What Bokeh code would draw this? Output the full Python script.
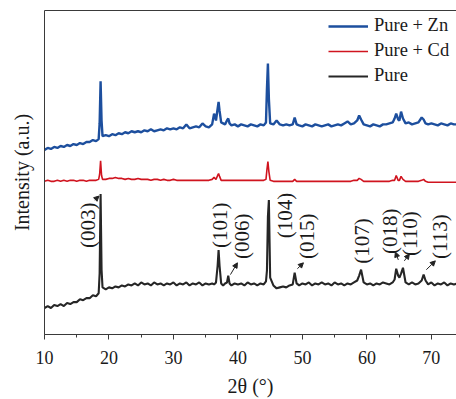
from bokeh.plotting import figure
from bokeh.embed import file_html
from bokeh.resources import INLINE
from bokeh.models import (Range1d, Legend, LegendItem, Label, Arrow, NormalHead,
                          LinearAxis, FixedTicker, SingleIntervalTicker)

# ---------------- data ----------------
two_theta = [
    10.0, 10.5, 11.0, 11.5, 12.0, 12.5, 13.0, 13.5, 14.0, 14.5,
    15.0, 15.5, 16.0, 16.5, 17.0, 17.5, 18.0, 18.4, 18.55, 18.7,
    18.85, 19.0, 19.5, 20.0, 20.5, 21.0, 21.5, 22.0, 22.5, 23.0,
    23.5, 24.0, 24.5, 25.0, 25.5, 26.0, 26.5, 27.0, 27.5, 28.0,
    28.5, 29.0, 29.5, 30.0, 30.5, 31.0, 31.5, 32.0, 32.5, 33.0,
    33.5, 34.0, 34.5, 35.0, 35.5, 36.0, 36.3, 36.6, 36.85, 37.0,
    37.15, 37.4, 37.7, 38.0, 38.3, 38.5, 38.7, 39.0, 39.5, 40.0,
    40.5, 41.0, 41.5, 42.0, 42.5, 43.0, 43.5, 44.0, 44.35, 44.5,
    44.65, 44.8, 45.0, 45.5, 46.0, 46.5, 47.0, 47.5, 48.0, 48.5,
    48.8, 49.1, 49.5, 50.0, 50.5, 51.0, 51.5, 52.0, 52.5, 53.0,
    53.5, 54.0, 54.5, 55.0, 55.5, 56.0, 56.5, 57.0, 57.5, 58.0,
    58.5, 58.8, 59.1, 59.5, 60.0, 60.5, 61.0, 61.5, 62.0, 62.5,
    63.0, 63.5, 64.0, 64.3, 64.55, 64.85, 65.05, 65.3, 65.6, 66.0,
    66.5, 67.0, 67.5, 68.0, 68.5, 68.8, 69.1, 69.5, 70.0, 70.5,
    71.0, 71.5, 72.0, 72.5, 73.0, 73.5, 74.0,
]

pure = [
    27, 29, 27, 30, 29, 31, 29, 32, 31, 33,
    33, 36, 35, 37, 37, 40, 39, 42, 62, 143,
    66, 48, 46, 48, 47, 49, 48, 50, 49, 51,
    50, 52, 50, 53, 51, 52, 50, 53, 51, 52,
    50, 52, 51, 53, 50, 52, 51, 53, 50, 52,
    51, 53, 50, 52, 51, 52, 51, 53, 70, 86,
    70, 52, 50, 52, 53, 60, 52, 50, 52, 51,
    52, 50, 53, 51, 52, 50, 52, 51, 54, 65,
    120, 137, 58, 50, 47, 48, 49, 48, 50, 51,
    63, 52, 50, 52, 51, 53, 50, 52, 51, 53,
    51, 52, 50, 53, 51, 52, 50, 52, 51, 53,
    55, 60, 66, 53, 51, 52, 50, 52, 51, 53,
    52, 51, 53, 56, 67, 60, 58, 62, 68, 53,
    51, 53, 51, 52, 55, 61, 55, 51, 53, 50,
    52, 51, 53, 50, 52, 51, 52,
]

pure_cd = [
    156, 157, 156, 156, 157, 156, 157, 156, 157, 157,
    156, 157, 157, 156, 157, 157, 157, 158, 163, 177,
    162, 158, 158, 159, 159, 160, 159, 159, 158, 159,
    158, 158, 159, 158, 158, 158, 157, 158, 158, 157,
    158, 157, 157, 158, 157, 157, 157, 157, 157, 157,
    157, 157, 157, 157, 157, 158, 160, 158, 162, 164,
    161, 157, 157, 157, 157, 157, 157, 157, 157, 157,
    157, 157, 157, 157, 157, 157, 157, 157, 158, 168,
    176, 166, 157, 156, 156, 156, 156, 156, 156, 156,
    158, 156, 156, 156, 156, 156, 156, 156, 156, 156,
    156, 156, 156, 156, 156, 156, 156, 156, 156, 157,
    157, 159, 158, 156, 156, 156, 156, 156, 156, 156,
    156, 156, 157, 157, 162, 157, 157, 161, 158, 156,
    156, 156, 156, 156, 157, 158, 156, 155, 155, 155,
    155, 155, 155, 155, 155, 155, 155,
]

pure_zn = [
    188, 190, 189, 191, 190, 192, 191, 193, 192, 194,
    193, 195, 194, 196, 196, 198, 197, 199, 215, 258,
    218, 202, 203, 202, 204, 203, 205, 204, 206, 205,
    207, 206, 207, 206, 208, 207, 209, 207, 208, 209,
    208, 210, 209, 210, 209, 211, 210, 214, 210, 211,
    212, 211, 215, 212, 211, 214, 225, 218, 230, 237,
    228, 216, 215, 214, 218, 220, 215, 213, 214, 212,
    214, 213, 212, 214, 213, 212, 214, 213, 216, 250,
    276, 240, 215, 214, 218, 214, 213, 214, 213, 214,
    221, 214, 213, 212, 214, 213, 212, 214, 213, 212,
    213, 214, 212, 213, 214, 213, 215, 217, 214, 215,
    218, 223, 219, 214, 213, 212, 214, 213, 212, 214,
    214, 215, 216, 220, 225, 219, 218, 227, 220, 215,
    216, 214, 215, 216, 221, 219, 215, 214, 215, 214,
    213, 215, 214, 213, 215, 214, 214,
]

series_names = ["Pure + Zn", "Pure + Cd", "Pure"]
peak_labels = ["(003)", "(101)", "(006)", "(104)", "(015)", "(107)", "(018)", "(110)", "(113)"]
x_ticks_interval = 10

# ---------------- layout / style ----------------
label_anchor_x = [16.82, 37.29, 40.70, 47.36, 50.78, 59.30, 63.64, 66.74, 71.40]
label_anchor_y = [88, 88, 77, 98, 77, 72, 82, 80, 77]
arrows = [  # (x_start, y_start, x_end, y_end) in data units
    (17.80, 137, 18.45, 141),
    (38.84, 61, 39.92, 73),
    (49.22, 67, 50.16, 73),
    (64.88, 76, 64.42, 84),
    (65.81, 75, 66.59, 82),
    (69.22, 66, 70.62, 75),
]

SERIF = "Liberation Serif"
AXIS_COLOR = "#3a3a3a"
TEXT_COLOR = "#1a1a1a"

p = figure(width=456, height=399, x_range=Range1d(10, 73.9), y_range=Range1d(0, 330),
           output_backend="svg", toolbar_location=None,
           min_border_left=44, min_border_right=0, min_border_top=10, min_border_bottom=59)
p.outline_line_color = None
p.xgrid.visible = False
p.ygrid.visible = False
p.background_fill_color = "white"
p.border_fill_color = "white"

r_zn = p.line(two_theta, pure_zn, line_color="#1d4f9e", line_width=2.4)
r_cd = p.line(two_theta, pure_cd, line_color="#d0141f", line_width=1.6)
r_pure = p.line(two_theta, pure, line_color="#262626", line_width=2.1)

# x axis
xa = p.xaxis[0]
xa.ticker = SingleIntervalTicker(interval=x_ticks_interval, num_minor_ticks=2)
xa.axis_label = "2θ (°)"
xa.axis_label_text_font = SERIF
xa.axis_label_text_font_style = "normal"
xa.axis_label_text_font_size = "20px"
xa.axis_label_text_color = TEXT_COLOR
xa.axis_label_standoff = 8
xa.major_label_text_font = SERIF
xa.major_label_text_font_size = "18px"
xa.major_label_text_color = TEXT_COLOR
xa.major_label_standoff = 11
xa.major_tick_in = 0
xa.major_tick_out = 5
xa.minor_tick_in = 0
xa.minor_tick_out = 3
xa.axis_line_color = AXIS_COLOR
xa.major_tick_line_color = AXIS_COLOR
xa.minor_tick_line_color = AXIS_COLOR

# y axis (no ticks)
ya = p.yaxis[0]
ya.ticker = FixedTicker(ticks=[])
ya.axis_label = "Intensity (a.u.)"
ya.axis_label_text_font = SERIF
ya.axis_label_text_font_style = "normal"
ya.axis_label_text_font_size = "20px"
ya.axis_label_text_color = TEXT_COLOR
ya.axis_label_standoff = 12
ya.axis_line_color = AXIS_COLOR
ya.major_tick_line_color = None
ya.minor_tick_line_color = None

# top border line
top = LinearAxis(ticker=FixedTicker(ticks=[]), axis_line_color=AXIS_COLOR,
                 major_tick_line_color=None, minor_tick_line_color=None,
                 major_label_text_font_size="0px")
p.add_layout(top, "above")

legend = Legend(items=[LegendItem(label=series_names[0], renderers=[r_zn]),
                       LegendItem(label=series_names[1], renderers=[r_cd]),
                       LegendItem(label=series_names[2], renderers=[r_pure])],
                location=(284, 248), padding=0, margin=0, spacing=4,
                glyph_width=40, glyph_height=20, label_height=20, label_standoff=6,
                label_text_font=SERIF, label_text_font_size="18.5px",
                label_text_color=TEXT_COLOR,
                border_line_color=None, background_fill_alpha=0)
p.add_layout(legend)

for txt, lx, ly in zip(peak_labels, label_anchor_x, label_anchor_y):
    p.add_layout(Label(x=lx, y=ly, text=txt, angle=90, angle_units="deg",
                       text_align="left", text_baseline="middle",
                       text_font=SERIF, text_font_size="21px", text_color=TEXT_COLOR))

for x0, y0, x1, y1 in arrows:
    p.add_layout(Arrow(x_start=x0, y_start=y0, x_end=x1, y_end=y1,
                       line_color="#222222", line_width=1,
                       end=NormalHead(size=5, fill_color="#222222", line_color="#222222")))

open("out.html", "w").write(file_html(p, INLINE))
